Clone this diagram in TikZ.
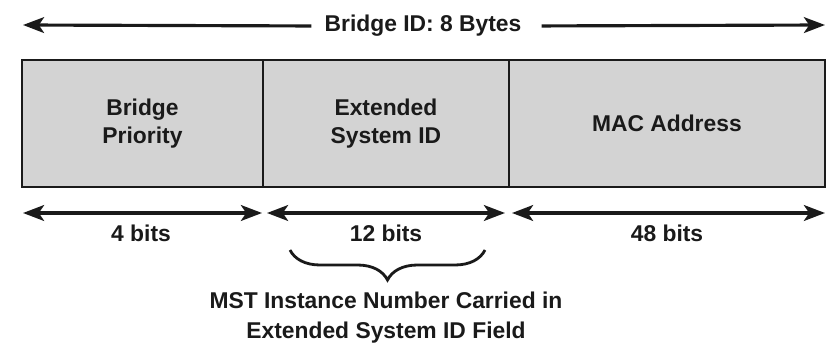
\documentclass[tikz,border=0pt]{standalone}
\usepackage{fontspec}
\setmainfont{Liberation Sans}
\usetikzlibrary{arrows.meta,positioning,decorations.pathreplacing}
\definecolor{fieldgray}{HTML}{D3D3D3}
\definecolor{inkdark}{HTML}{1A1A1A}
\tikzset{
  lbl/.style={font=\bfseries\fontsize{13}{16}\selectfont,text=inkdark,align=center},
  field/.style={lbl,draw=inkdark,line width=1.1pt,fill=fieldgray,minimum height=2.54cm,inner sep=0pt,outer sep=0pt},
  span/.style={draw=inkdark,line width=1.8pt,{Stealth[length=12pt,width=9pt,inset=3pt]}-{Stealth[length=12pt,width=9pt,inset=3pt]}},
  half/.style={draw=inkdark,line width=1.8pt,-{Stealth[length=12pt,width=9pt,inset=3pt]}}
}

\begin{document}
\begin{tikzpicture}[x=0.02cm,y=-0.02cm]
\useasboundingbox (0,0) rectangle (830,344);
% header
\node[lbl] (title) at (423,26) {Bridge ID: 8 Bytes};
\coordinate (topL) at (23,25);
\coordinate (topR) at (825,25);
\draw[half,shorten <=4pt] (title.west) -- (topL);
\draw[half,shorten <=8pt] (title.east) -- (topR);
% fields
\node[field,minimum width=4.82cm,anchor=north west] (prio) at (22,60) {Bridge\\Priority};
\node[field,minimum width=4.92cm,right=0pt of prio] (ext) {Extended\\System ID};
\node[field,minimum width=6.32cm,right=0pt of ext] (mac) {MAC Address};
% sizes
\coordinate (a1) at (23,213);  \coordinate (a2) at (262,213);
\coordinate (b1) at (267,213); \coordinate (b2) at (505,213);
\coordinate (c1) at (512,213); \coordinate (c2) at (825,213);
\draw[span] (a1) -- (a2);
\draw[span] (b1) -- (b2);
\draw[span] (c1) -- (c2);
\node[lbl] (prioBits) at (141,233) {4 bits};
\node[lbl] (extBits) at (386,233) {12 bits};
\node[lbl] (macBits) at (667,233) {48 bits};
% brace
\coordinate (brL) at (290,250);
\coordinate (brR) at (485,250);
\draw[inkdark,line width=1.6pt,decorate,decoration={brace,mirror,amplitude=0.6cm}] (brL) -- (brR);
\node[lbl,font=\bfseries\fontsize{13}{17}\selectfont,inner sep=1pt] (note) at (386,318) {MST Instance Number Carried in\\Extended System ID Field};
\end{tikzpicture}
\end{document}
